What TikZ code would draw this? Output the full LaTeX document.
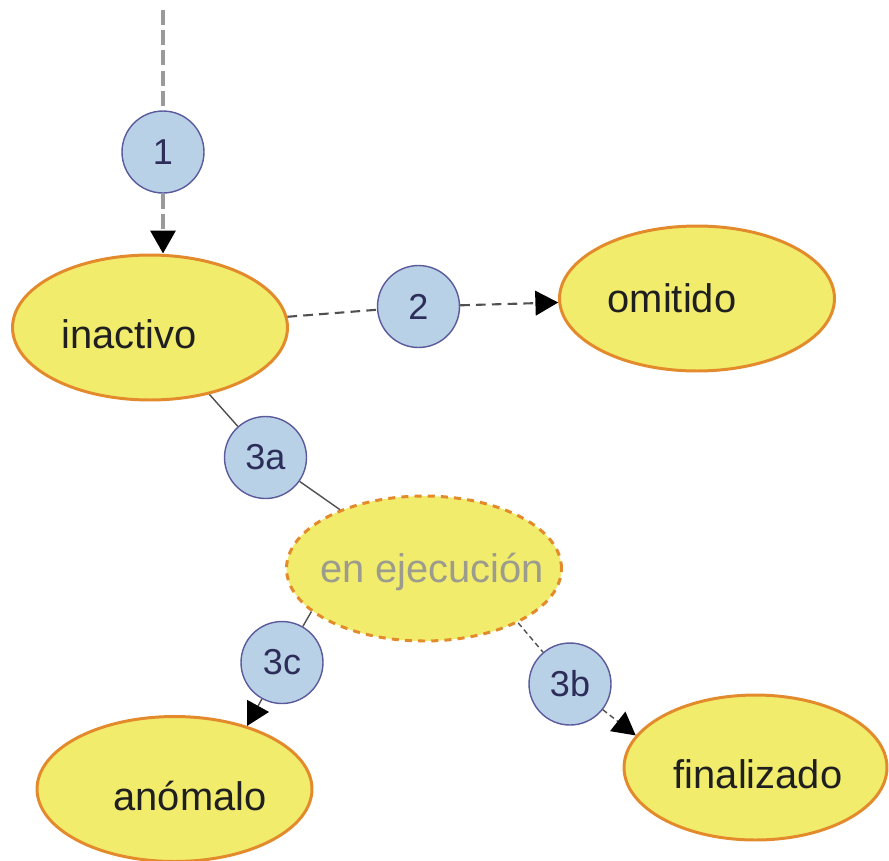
\documentclass[tikz,border=0pt]{standalone}
\usepackage{fontspec}
\setmainfont{Liberation Sans}
\usepackage[table]{xcolor}
\usepackage{tikz}
\usetikzlibrary{shapes.geometric,arrows.meta}

\definecolor{estadofill}{HTML}{F2EC6C}
\definecolor{estadoborde}{HTML}{E38B2C}
\definecolor{pasofill}{HTML}{B9D1E6}
\definecolor{pasoborde}{HTML}{5A5A9C}
\definecolor{pasotexto}{HTML}{2D2D5A}
\definecolor{grisclaro}{HTML}{9A9A9A}
\definecolor{grisoscuro}{HTML}{505050}
\definecolor{textoejec}{HTML}{9B9B8E}

\tikzset{
  estado/.style={ellipse, draw=estadoborde, line width=1.7pt, fill=estadofill,
    inner sep=0pt, minimum width=5.5cm, minimum height=2.9cm},
  estadoejec/.style={estado, dash pattern=on 4pt off 3.5pt},
  paso/.style={circle, draw=pasoborde, line width=0.8pt, fill=pasofill,
    minimum size=1.64cm, inner sep=0pt, text=pasotexto,
    font=\fontsize{20.5}{24}\selectfont},
  rotulo/.style={inner sep=0pt, text=black!88, font=\fontsize{22.7}{27}\selectfont},
  punta/.style={-{Triangle[length=13pt,width=14pt,color=black]}},
  trazoinicio/.style={draw=grisclaro, line width=2.2pt, dash pattern=on 8.5pt off 3pt},
  trazoomitir/.style={draw=grisoscuro, line width=1.2pt, dash pattern=on 5.5pt off 3.5pt},
  trazofino/.style={draw=grisoscuro, line width=0.8pt},
  trazopunteado/.style={draw=grisoscuro, line width=0.8pt, dash pattern=on 3pt off 2pt}
}

\begin{document}
\begin{tikzpicture}[x=0.02cm, y=-0.02cm]
        \useasboundingbox (0,0) rectangle (889,860);

        % estados
        \node [estado]                          (inactivo)   at (150,327.5) {};
        \node [estado]                          (omitido)    at (697,298.5) {};
        \node [estadoejec]                      (ejecucion)  at (424,568.5) {};
        \node [estado]                          (anomalo)    at (174.5,789) {};
        \node [estado, minimum width=5.26cm]    (finalizado) at (755.5,767.5) {};

        \node [rotulo]                  (tinactivo)   at (129,334)   {inactivo};
        \node [rotulo]                  (tomitido)    at (672,298)   {omitido};
        \node [rotulo, text=textoejec]  (tejecucion)  at (432,572)   {en ejecución};
        \node [rotulo]                  (tanomalo)    at (190,796)   {anómalo};
        \node [rotulo]                  (tfinalizado) at (758,774)   {finalizado};

        % pasos
        \node [paso] (p1)  at (163,152)   {1};
        \node [paso] (p2)  at (418.5,306.5) {2};
        \node [paso] (p3a) at (265.5,457.5) {3a};
        \node [paso] (p3b) at (570,684)   {3b};
        \node [paso] (p3c) at (282,662.5) {3c};

        \coordinate (entrada) at (163,10);

        % transiciones
        \draw [trazoinicio]         (entrada) -- (p1);
        \draw [trazoinicio, punta]  (p1) -- (p1 |- inactivo.north);
        \draw [trazoomitir]         (inactivo) -- (p2);
        \draw [trazoomitir, punta]  (p2) -- (omitido);
        \draw [trazofino]           (inactivo) -- (p3a);
        \draw [trazofino]           (p3a) -- (ejecucion);
        \draw [trazofino]           (ejecucion.201) -- (p3c);
        \draw [trazofino, punta]    (p3c) -- (anomalo.41);
        \draw [trazopunteado]       (ejecucion.-30) -- (p3b);
        \draw [trazopunteado, punta] (p3b) -- (finalizado.165);
      \end{tikzpicture}
\end{document}
